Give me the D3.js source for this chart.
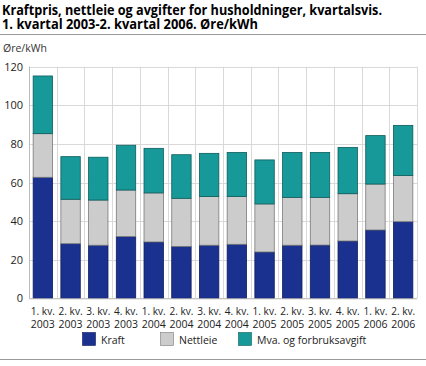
<!DOCTYPE html>
<html><head><meta charset="utf-8">
<script src="https://cdn.jsdelivr.net/npm/d3@7/dist/d3.min.js"></script>
<style>body{margin:0;background:#fff}svg{display:block}text{font-family:"Open Sans","DejaVu Sans",sans-serif}</style>
</head><body>
<svg id="c" width="426" height="366"></svg>
<script>
const quarters = ["1. kv.","2. kv.","3. kv.","4. kv.","1. kv.","2. kv.","3. kv.","4. kv.","1. kv.","2. kv.","3. kv.","4. kv.","1. kv.","2. kv."];
const years = ["2003","2003","2003","2003","2004","2004","2004","2004","2005","2005","2005","2005","2006","2006"];
const kraft =    [62.7,28.3,27.5,32.0,29.2,26.9,27.5,28.0,24.0,27.5,27.6,29.7,35.4,39.7];
const nettleie = [22.6,23.0,23.4,24.1,25.4,24.9,25.2,24.8,24.9,24.8,24.7,24.5,23.8,23.9];
const mva =      [29.9,22.1,22.2,23.2,23.1,22.6,22.4,22.8,22.8,23.3,23.3,24.0,25.1,26.0];
const seriesNames = ["Kraft","Nettleie","Mva. og forbruksavgift"];
const colors = ["#1b318f","#cccccc","#179999"];
const strokes = ["#0d1c5c","#7a7a7a","#0e5c5c"];
const yTicks = [0,20,40,60,80,100,120];

const svg = d3.select("#c");
const m = {l:29, r:9, t:66.7, b:67.7};
const W = 426, H = 366;
const x = d3.scaleBand().domain(d3.range(quarters.length)).range([m.l, W-m.r]).paddingInner(0.3).paddingOuter(0.15);
const y = d3.scaleLinear().domain([0,120]).range([H-m.b, m.t]);

// title
const t = svg.append("text").attr("font-weight","bold").attr("font-size",13.5).attr("fill","#000");
t.append("tspan").attr("x",2).attr("y",14.5).attr("textLength",380).attr("lengthAdjust","spacingAndGlyphs").text("Kraftpris, nettleie og avgifter for husholdninger, kvartalsvis.");
t.append("tspan").attr("x",2).attr("y",29).attr("textLength",256).attr("lengthAdjust","spacingAndGlyphs").text("1. kvartal 2003-2. kvartal 2006. Øre/kWh");
svg.append("line").attr("x1",0).attr("x2",426).attr("y1",34.5).attr("y2",34.5).attr("stroke","#999").attr("stroke-width",1);
svg.append("text").attr("x",3).attr("y",52).attr("font-size",10.5).attr("fill","#333").text("Øre/kWh");

// gridlines
const g = svg.append("g");
g.selectAll("line.h").data(yTicks).join("line")
 .attr("x1",m.l).attr("x2",W-m.r).attr("y1",d=>Math.round(y(d))+0.5).attr("y2",d=>Math.round(y(d))+0.5)
 .attr("stroke","#d9d9d9");
const bounds = d3.range(quarters.length+1).map(i => m.l + i*x.step());
g.selectAll("line.v").data(bounds).join("line")
 .attr("x1",d=>Math.round(d)+0.5).attr("x2",d=>Math.round(d)+0.5).attr("y1",y(120)).attr("y2",y(0))
 .attr("stroke","#d9d9d9");
// y tick labels
svg.selectAll("text.yt").data(yTicks).join("text")
 .attr("x",23).attr("y",d=>y(d)+4).attr("text-anchor","end").attr("font-size",11).attr("fill","#222").text(d=>d);

// stacked bars
const rows = quarters.map((q,i)=>({i, Kraft:kraft[i], Nettleie:nettleie[i], "Mva. og forbruksavgift":mva[i]}));
const stack = d3.stack().keys(seriesNames)(rows);
stack.forEach((s,k)=>{
  svg.append("g").selectAll("rect").data(s).join("rect")
   .attr("x",d=>x(d.data.i)).attr("width",x.bandwidth())
   .attr("y",d=>y(d[1])).attr("height",d=>y(d[0])-y(d[1]))
   .attr("fill",colors[k]).attr("stroke",strokes[k]).attr("stroke-width",0.8);
});
// axis line
svg.append("line").attr("x1",m.l).attr("x2",W-m.r).attr("y1",y(0)+0.5).attr("y2",y(0)+0.5).attr("stroke","#bbb");
svg.append("line").attr("x1",m.l+0.5).attr("x2",m.l+0.5).attr("y1",y(120)).attr("y2",y(0)).attr("stroke","#bbb");

// x labels
const xl = svg.selectAll("text.xl").data(quarters).join("text").attr("font-size",10.5).attr("fill","#222").attr("text-anchor","middle");
xl.append("tspan").attr("x",(d,i)=>x(i)+x.bandwidth()/2).attr("y",315).attr("textLength",24).attr("lengthAdjust","spacingAndGlyphs").text(d=>d);
xl.append("tspan").attr("x",(d,i)=>x(i)+x.bandwidth()/2).attr("y",328).attr("textLength",24).attr("lengthAdjust","spacingAndGlyphs").text((d,i)=>years[i]);

// legend
const lx = [82,160,238];
seriesNames.forEach((n,k)=>{
  svg.append("rect").attr("x",lx[k]+0.5).attr("y",332.5).attr("width",13).attr("height",13).attr("fill",colors[k]).attr("stroke",strokes[k]).attr("stroke-width",0.6);
  svg.append("text").attr("x",lx[k]+19).attr("y",343.5).attr("font-size",10.5).attr("fill","#222").text(n);
});
svg.append("line").attr("x1",0).attr("x2",426).attr("y1",359.5).attr("y2",359.5).attr("stroke","#999");
</script>
</body></html>
